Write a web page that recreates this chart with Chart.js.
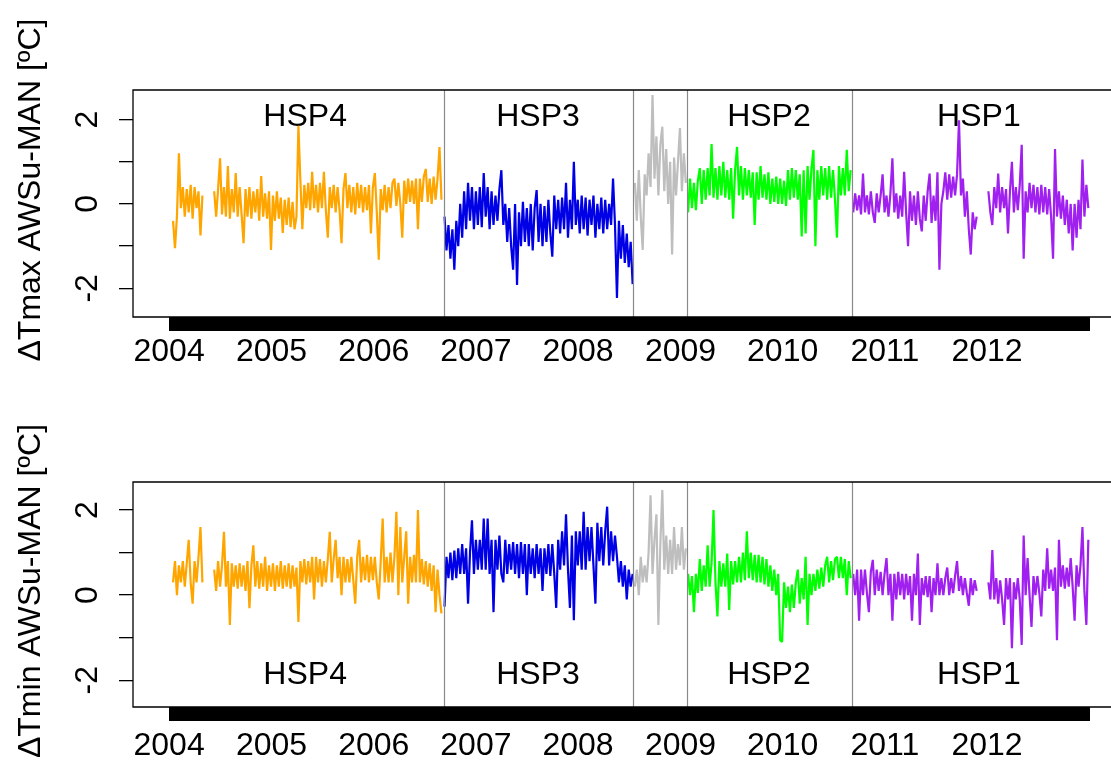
<!DOCTYPE html>
<html>
<head>
<meta charset="utf-8">
<title>AWSu - MAN differences</title>
<script src="https://cdn.jsdelivr.net/npm/chart.js@4.4.0/dist/chart.umd.min.js"></script>
<style>
  html, body { margin: 0; padding: 0; background: #fff; overflow: hidden; }
  #wrap { position: relative; width: 1111px; height: 769px; }
  canvas { position: absolute; left: 0; }
  #tmax { top: 0; }
  #tmin { top: 385px; }
</style>
</head>
<body>
<div id="wrap">
  <canvas id="tmax" width="1111" height="385"></canvas>
  <canvas id="tmin" width="1111" height="384"></canvas>
</div>
<script>
// x values are days since 2004-01-01, one reading every 7 days
const STEP_DAYS = 7;
const LAST_DAY = 3287; // 2012-12-31

const periodNames = ['HSP4', 'HSP3', 'transition', 'HSP2', 'HSP1'];
const periodColors = ['#FFA500', '#0000E6', '#BEBEBE', '#00FF00', '#A020F0'];
const periodStartDay = [14, 984, 1664, 1854, 2444];
const periodBreaks = [982, 1657, 1850, 2440];

const yearTickDays = [0, 366, 731, 1096, 1461, 1827, 2192, 2557, 2922];
const yearLabels = ['2004', '2005', '2006', '2007', '2008', '2009', '2010', '2011', '2012'];
const yTickValues = [-2, -1, 0, 1, 2];

// Delta Tmax (AWSu - MAN), degC
const tmaxHSP4 = [-0.4, -1.05, -0.3, 1.2, -0.1, 0.4, -0.3, 0.35, -0.2, 0.45, -0.35, 0.4, -0.1, 0.3, -0.75, 0.2,
  null, null, null, null, null,
  0.3, -0.3, 0.35, 1.08, -0.25, 0.4, -0.3, 0.9, -0.35, 0.35, -0.2, 0.73, -0.3, 0.4, -0.25, -0.93,
  0.35, -0.3, 0.4, -0.35, 0.3, -0.2, 0.35, -0.4, 0.66, -0.3, 0.25, -0.35, 0.3, -1.09, 0.2, -0.4,
  0.3, -0.35, 0.15, -0.69, 0.1, -0.5, 0.15, -0.55, 0.05, -0.6, -0.3,
  1.85, 0.55, -0.6,
  0.45, -0.1, 0.5, -0.15, 0.76, -0.1, 0.45, -0.2, 0.5, -0.1, 0.76, -0.15, -0.8, 0.4, -0.1, 0.45,
  -0.2, 0.4, -0.15, -0.93, 0.35, 0.73, -0.1, 0.45, -0.2, 0.4, -0.25, 0.5, -0.1, 0.45, -0.2, 0.4,
  -0.15, 0.45, -0.7, 0.4, 0.73, -0.2, -1.32, 0.35, -0.15, 0.45, -0.2, 0.4, -0.1, 0.5, 0.6, -0.05,
  0.5, 0.0, -0.8, 0.55, 0.0, 0.6, 0.05, 0.55, 0.0, 0.6, -0.6, 0.6, 0.05, 0.65, 0.83, 0.05,
  0.6, 0.0, 0.65, 0.1, 0.6, 1.35, 0.1];
const tmaxHSP3 = [-0.3, -1.1, -0.5, -1.3, -0.6, -1.56,
  -0.4, -1.0, 0.0, -0.8, 0.3, -0.6, 0.5, -0.4,
  0.4, -0.6, 0.3, -0.5, 0.4, -0.55, 0.73, -0.3, 0.4, -0.6, 0.3, -0.5, 0.2, -0.4, 0.35, 0.8, -0.5,
  0.0, -0.9, -0.1, -1.0, -1.56, 0.0, -1.92, -0.2, -1.0, 0.05, -0.9, -0.1, -1.0, 0.0, -1.1, -0.1,
  0.33, -0.9, 0.0, -1.0, -0.05, -0.9,
  0.1, -0.7, -1.25, 0.2, -0.6, 0.1, -0.7, 0.15, -0.6, 0.5, -0.8, 0.1, -0.6, 1.0, -0.5, 0.1, -0.7,
  0.2, -0.6, 0.15, -0.75, 0.1, -0.5, 0.2, -0.8, 0.0, -0.6, 0.15, -0.7, 0.1, -0.6, 0.0, -0.5, 0.6,
  -0.5, -2.23, -0.4, -1.3, -0.5, -1.4, -0.7, -1.5, -0.9, -1.9];
const tmaxGray = [0.5, -0.4, 0.8, -0.3, -1.09, 0.7, 0.2, 1.2, 0.4, 2.58, 0.6, 1.6,
  0.2, 1.4, 1.83, 0.3, 1.3, 0.0, 1.0, -1.2, 1.1, 0.2, 1.0, 1.8, 0.3, 1.2, 0.5];
const tmaxHSP2 = [-0.2, 0.6, -0.1, 0.5, -0.15, 0.55, 0.85, 0.0,
  0.8, 0.1, 0.85, 0.2, 1.42, 0.15, 0.85, 0.1, 0.9, 0.2, 1.0, 0.15, 0.8, 0.1, 0.85, -0.35, 0.8, 1.35,
  0.2, 0.9, 0.1, 0.85, 0.2, 0.8, 0.15, 0.75, -0.5, 0.75, 0.1, 0.9, 0.15, 0.7, 0.1, 0.75, 0.0, 0.6,
  0.05, 0.65, 0.0, 0.6,
  0.0, 0.55, -0.05, 0.8, 0.1, 0.85, 0.15, 0.8, 0.1, 0.7, -0.77, 0.8, -0.7, 0.9, 0.1, 0.85, 1.28,
  -1.0, 0.8, 0.1, 0.9, 0.2, 0.85, 0.1, 0.9, 0.15, 0.8, 0.1, -0.8, 0.9, 0.2, 0.85, 0.2, 1.28, 0.3, 0.8];
const tmaxHSP1 = [-0.2, 0.25, -0.15, 0.2, -0.25, 0.72, -0.2, 0.2, -0.25, 0.3, -0.2, -0.45, 0.25,
  -0.2, 0.2, 0.7, -0.2,
  0.2, -0.3, 0.25, 1.08, -0.2, 0.25, -0.35, 0.2, -0.3, 0.76, -0.2, -1.0,
  0.3, -0.4, 0.2, -0.5, 0.3, -0.35, -0.65, 0.2, -0.4, 0.3, 0.72, -0.45, 0.2, -0.4, 0.75, -1.56, 0.0,
  0.3, 0.75, 0.1, 0.7, 0.15, 0.65, 0.2, 0.7, 1.98, 0.2, 0.6, -0.3, 0.3, -0.6, -1.2, -0.2, -0.6,
  -0.3,
  null, null, null, null, null,
  0.3, -0.2, -0.5, 0.4, -0.1, 0.72, -0.2, 0.4, -0.1, 0.35, -0.7, 0.3, 1.0, -0.2, 0.4, -0.15, 0.45,
  1.4, -1.3, 0.3, -0.2,
  0.5, -0.1, 0.45, -0.2, 0.4, -0.25, 0.45, -0.2, 0.4, -0.25, 0.35, -0.3, -1.3, 1.3, -0.3, 0.3, -0.35,
  0.2, -0.5, 0.1, -0.7, 0.0, -1.1, 0.0, -0.8, 0.1, -0.6, 1.05, -0.3, 0.45, -0.1];

// Delta Tmin (AWSu - MAN), degC
const tminHSP4 = [0.3, 0.8, 0.0, 0.7, 0.3, 0.8, 0.2, 0.75, 1.3, 0.3, -0.2, 0.8, 0.3, 0.9, 1.6, 0.3,
  null, null, null, null, null,
  0.6, 0.1, 0.8, 0.2, 0.7, 1.49, 0.2, 0.8, -0.7, 0.75, 0.2, 0.7, 0.15, 0.75, 0.2, 0.7,
  0.1, 0.8, -0.31, 0.7, 1.17, 0.2, 0.8, 0.15, 0.75, 0.2, 0.9, 0.1, 0.7, 0.2, 0.75, 0.1,
  0.7, 0.2, 0.8, 0.15, 0.7, 0.2, 0.75, 0.15, 0.7, 0.2, 0.65,
  -0.63, 0.8, 0.3, 0.85, 0.25, 0.8, 0.3, 0.9, -0.1, 0.9, 0.3, 0.85, 0.2, 0.8, 0.3, 0.85, 1.49,
  0.3, 0.85, 1.3, 0.4, 0.9, 0.0, 0.9, 0.3, 0.85, 0.3, 0.9, 0.35, -0.2, 0.9, 1.3, 0.3,
  0.9, 0.35, 0.95, 0.3, 0.9, 0.35, 0.9, 0.3,
  -0.1, 0.8, 1.8, 0.3, 0.9, 0.3, 1.0, 0.3, 0.9, 1.96, 0.0, 1.6, 0.3, 0.9, 1.5, -0.2,
  0.9, 0.3, 0.95, 0.3, 2.0,
  0.3, 0.85, 0.25, 0.8, 0.2, 0.75, 0.1, 0.7, -0.4, 0.6, 0.0, -0.43];
const tminHSP3 = [-0.27, 0.9, 0.4, 1.0, 0.35, 1.05, 0.4, 1.1, 0.5, 1.2, 0.5, 1.1, -0.2, 1.0,
  1.76, 0.5, 1.3, 0.6, 1.3, 0.6, 1.8, 0.6, 1.8, 0.5, 1.3, -0.4, 1.3, 0.6, 1.4, 0.5, 0.3, 1.3,
  0.5, 1.2, 0.6, 1.25,
  0.5, 1.2, 0.4, 1.25, 0.5, 1.2, 0.0, 1.2, 0.5, 1.1, 0.4, 1.2, 0.5, 1.1, 0.1, 1.1, 0.5, 1.2,
  0.45, 1.2, 0.5, -0.3,
  1.3, 0.6, 1.5, 0.7, 1.9, 0.6, -0.3, 1.4, -0.59, 1.5, 0.7, 1.5, 0.6, 1.96, 0.6,
  1.6, 0.8, 1.6, 0.7, -0.2, 1.7, 0.8, 1.6, 0.7, 1.5, 2.08, 0.7, 1.5, 0.8, 1.4, 0.9,
  0.3, 0.8, 0.2, 0.7, -0.1, 0.6, 0.2, 0.5];
const tminGray = [0.2, 0.6, 0.0, 0.9, 0.3, 0.7, 0.3, 1.0, 2.35, 0.5, 1.3, 1.9,
  -0.7, 1.2, 2.47, 0.6, 1.4, 0.5, 1.3, 0.5, 1.6, 0.6, 1.2, 0.7, 1.6, 0.6, 1.1];
const tminHSP2 = [0.5, 0.0, 0.45, -0.4, 0.5, 0.05, 0.85, 0.1,
  0.7, 0.2, 1.17, 0.2, 0.75, 2.0, 0.3, -0.5, 0.8, 0.2, 0.75, 0.2, 0.98, -0.35, 0.8, 0.25, 0.8, 0.3,
  0.9, 0.3, 1.0, 0.35, 1.5, 0.4, 1.0, 0.35, 0.95, 0.3, 0.95, 0.3, 0.9, 0.25, 0.85, 0.2, 0.7, 0.1,
  0.6, 0.0, 0.5, -1.06,
  -1.1, 0.3, -0.3, 0.2, -0.4, 0.25, -0.3,
  0.3, 0.6, -0.2, 0.4, -0.1, 0.9, -0.7, 0.5, 0.0, 0.5,
  0.1, 0.6, 0.15, 0.65, 0.2, 0.7, 0.9, 0.3, 0.8, 0.35, 0.85, 0.9, 0.4, 0.9, 0.4, 0.85, 0.0, 0.8, 0.4];
const tminHSP1 = [0.5, 0.0, 0.6, -0.6, 0.6, 0.0, 0.6, 0.05, -0.4, 0.55, 0.83, 0.0, 0.6, 0.1, 0.55,
  0.0, 0.5, 0.87,
  0.0, 0.5, -0.6, 0.5, -0.1, 0.55, 0.0, 0.5, -0.1, 0.5, 0.0, 0.45, -0.6, 0.5, 0.0, 0.98, -0.7,
  0.4, 0.0, 0.45, -0.05,
  0.45, -0.4, 0.4, 0.0, 0.75, 0.0, 0.4, 0.0, 0.4, 0.65, 0.0, 0.4, 0.05, 0.45, 0.8, 0.1, 0.45,
  0.0, 0.4, 0.05, -0.25, 0.4, 0.0, 0.35, 0.1,
  null, null, null, null, null,
  0.3, -0.1, 1.06, -0.1, 0.4, -0.2, 0.35, -0.1, -0.7, 0.4, -0.1, 0.4, -1.25, 0.3,
  -0.1, 0.4, -0.1, -1.17, 1.4, 0.0, 0.87, 0.0, -0.75, 0.45, 0.0, 0.45, 0.05, -0.5,
  0.6, 0.1, 1.1, 0.15, 0.6, 0.1, 0.65, -1.06, 1.3, 0.2, 0.7, 0.15, 0.65, 0.2, 0.87, 0.2,
  -0.6, 0.7, 0.2, 0.7, 1.6, 0.1, -0.7, 1.3];

const FAMILY = '"Liberation Sans", Arial, sans-serif';
const FONT = '32px ' + FAMILY;

// one tick per day -> the solid black band under each panel
const dayTicks = [];
for (let d = 0; d <= LAST_DAY; d++) dayTicks.push({ value: d });

// box, period dividers, HSP names, rotated y labels and y title
const panelDecor = {
  id: 'panelDecor',
  beforeDatasetsDraw(chart, args, o) {
    const { ctx, scales: { x, y } } = chart;
    ctx.save();
    ctx.fillStyle = '#000';
    ctx.font = FONT;
    ctx.textAlign = 'center';
    ctx.textBaseline = 'middle';
    o.names.forEach((t, i) => {
      ctx.fillText(t, x.getPixelForValue(o.nameDays[i]), y.getPixelForValue(o.nameValue));
    });
    ctx.restore();
  },
  afterDatasetsDraw(chart, args, o) {
    const { ctx, chartArea: a, scales: { x, y } } = chart;
    ctx.save();
    // period dividers
    ctx.strokeStyle = '#8a8a8a';
    ctx.lineWidth = 1.2;
    periodBreaks.forEach((d) => {
      const px = Math.round(x.getPixelForValue(d)) + 0.5;
      ctx.beginPath();
      ctx.moveTo(px, a.top);
      ctx.lineTo(px, a.bottom);
      ctx.stroke();
    });
    // open box (right side is cut off in the original)
    ctx.strokeStyle = '#000';
    ctx.lineWidth = 1.3;
    ctx.beginPath();
    ctx.moveTo(a.right, a.top);
    ctx.lineTo(a.left, a.top);
    ctx.lineTo(a.left, a.bottom);
    ctx.lineTo(a.right, a.bottom);
    ctx.stroke();
    // y tick labels, R style (parallel to the axis), every second tick
    ctx.fillStyle = '#000';
    ctx.font = FONT;
    ctx.textAlign = 'center';
    ctx.textBaseline = 'alphabetic';
    y.ticks.forEach((t) => {
      if (t.value % 2 !== 0) return;
      ctx.save();
      ctx.translate(o.tickLabelX, y.getPixelForValue(t.value));
      ctx.rotate(-Math.PI / 2);
      ctx.fillText(String(t.value), 0, 0);
      ctx.restore();
    });
    // y title
    ctx.translate(o.titleX, o.titleY);
    ctx.rotate(-Math.PI / 2);
    ctx.fillText(o.title, 0, 0);
    ctx.restore();
  }
};

function makePanel(id, series, p) {
  const datasets = periodNames.map((name, k) => ({
    label: name,
    data: series[k].map((v, i) => ({ x: periodStartDay[k] + i * STEP_DAYS, y: v })),
    borderColor: periodColors[k],
    borderWidth: 2.2,
    borderJoinStyle: 'bevel',
    pointRadius: 0,
    tension: 0,
    spanGaps: false
  }));

  return new Chart(document.getElementById(id), {
    type: 'line',
    data: { datasets },
    plugins: [panelDecor],
    options: {
      responsive: false,
      animation: false,
      layout: { autoPadding: false, padding: { top: p.top, left: 0, right: 0, bottom: 0 } },
      scales: {
        x: {
          type: 'linear',
          bounds: 'data',
          min: -129,
          max: 3365,
          afterBuildTicks: (s) => { s.ticks = dayTicks.slice(); },
          afterFit: (s) => { s.height = p.xHeight; },
          grid: { drawOnChartArea: false, drawTicks: true, tickLength: 14, color: '#000', tickColor: '#000', lineWidth: 1 },
          border: { display: false },
          ticks: {
            autoSkip: false,
            maxRotation: 0,
            minRotation: 0,
            padding: p.labelPad,
            color: '#000',
            font: { family: FAMILY, size: 32, lineHeight: 1 },
            callback: (v) => {
              const k = yearTickDays.indexOf(v);
              return k >= 0 ? yearLabels[k] : '';
            }
          }
        },
        y: {
          bounds: 'data',
          min: p.yMin,
          max: p.yMax,
          afterBuildTicks: (s) => { s.ticks = yTickValues.map((v) => ({ value: v })); },
          afterFit: (s) => { s.width = 133; },
          grid: { drawOnChartArea: false, drawTicks: true, tickLength: 14, color: '#000', tickColor: '#000', lineWidth: 1.3 },
          border: { display: false },
          ticks: { display: false }
        }
      },
      plugins: {
        legend: { display: false },
        tooltip: { enabled: false },
        panelDecor: {
          names: ['HSP4', 'HSP3', 'HSP2', 'HSP1'],
          nameDays: [486, 1318, 2143, 2893],
          nameValue: p.nameValue,
          tickLabelX: 97,
          titleX: 40,
          titleY: p.titleY,
          title: p.title
        }
      }
    }
  });
}

makePanel('tmax', [tmaxHSP4, tmaxHSP3, tmaxGray, tmaxHSP2, tmaxHSP1], {
  top: 90, xHeight: 68, labelPad: 5, yMin: -2.68, yMax: 2.7,
  nameValue: 2.05, titleY: 190, title: '\u0394Tmax AWSu-MAN [\u00baC]'
});

makePanel('tmin', [tminHSP4, tminHSP3, tminGray, tminHSP2, tminHSP1], {
  top: 97, xHeight: 62, labelPad: 9, yMin: -2.63, yMax: 2.66,
  nameValue: -1.88, titleY: 206, title: '\u0394Tmin AWSu-MAN [\u00baC]'
});
</script>
</body>
</html>
